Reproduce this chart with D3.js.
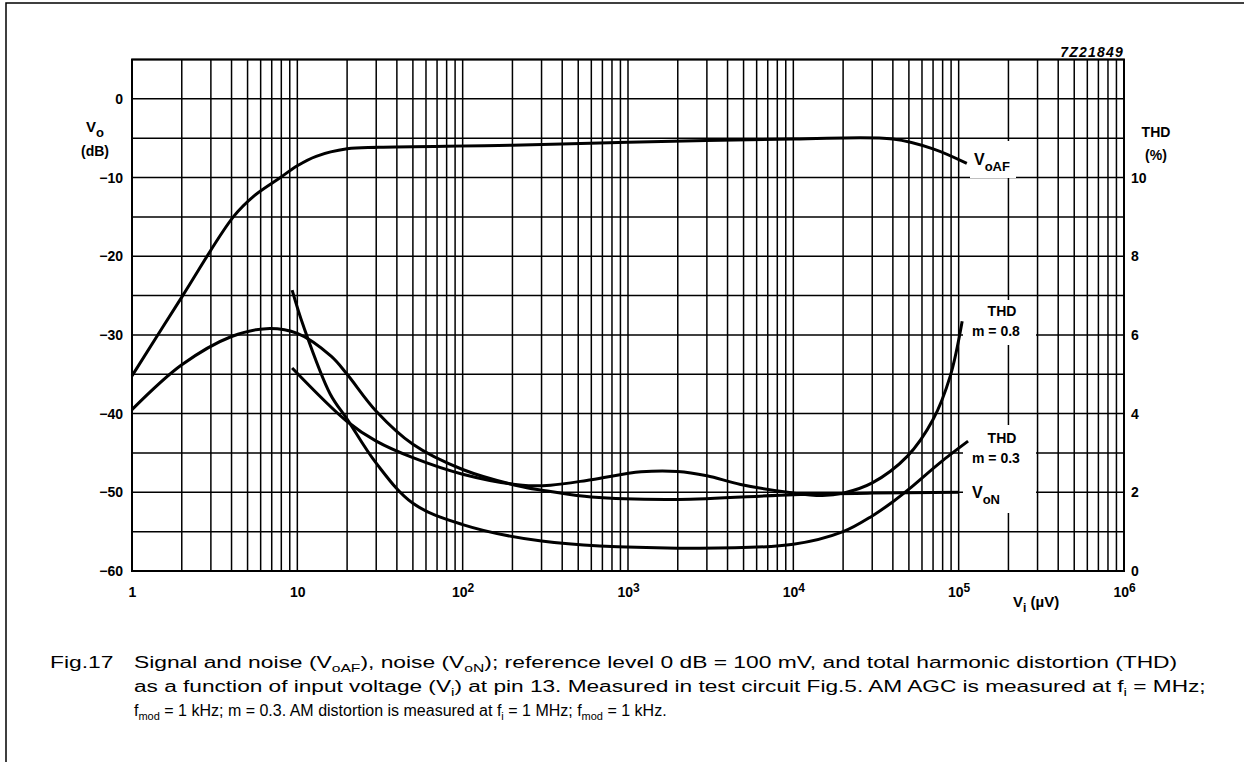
<!DOCTYPE html>
<html>
<head>
<meta charset="utf-8">
<script src="https://cdn.jsdelivr.net/npm/d3@7"></script>
<style>
html, body { margin: 0; padding: 0; background: #fff; }
svg { display: block; font-family: Arial, "Liberation Sans", Helvetica, sans-serif; }
</style>
</head>
<body>
<div id="chart"></div>
<script>
// 軸刻度 / axis ticks
const xTicks = [1, 10, 1e2, 1e3, 1e4, 1e5, 1e6];
const xTickBase = ["1", "10", "10", "10", "10", "10", "10"];
const xTickExp = ["", "", "2", "3", "4", "5", "6"];
const dbTicks = [0, -10, -20, -30, -40, -50, -60];
const thdTicks = [0, 2, 4, 6, 8, 10];

// V_oAF (dB) 讀自圖 /
const voafVi = [1, 2, 4.1, 5.5, 7.9, 10, 13, 20, 31, 200, 1000, 1e4, 4e4, 7e4, 1.12e5];
const voafDb = [-35.2, -25.2, -15.0, -12.3, -10, -8.5, -7.3, -6.35, -6.15, -5.9, -5.5, -5.1, -5.1, -6.35, -8.2];

// V_oN (dB)
const vonVi = [1, 2, 4, 6.5, 10, 16, 20, 30, 50, 100, 230, 340, 600, 2000, 1e4, 3e4, 1e5];
const vonDb = [-39.5, -33.8, -30.2, -29.2, -29.8, -32.7, -35, -39.7, -43.9, -47.1, -49.3, -49.9, -50.6, -50.9, -50.3, -50.1, -50.0];

// THD m = 0.8 (%)
const thd08Vi = [9.3, 20, 30, 50, 100, 230, 340, 600, 1200, 2000, 3000, 4800, 1e4, 1.5e4, 2e4, 3e4, 4.9e4, 7e4, 8.9e4, 1.05e5];
const thd08Pct = [5.16, 3.8, 3.3, 2.88, 2.46, 2.18, 2.18, 2.32, 2.52, 2.53, 2.42, 2.2, 1.98, 1.92, 1.98, 2.24, 2.92, 3.85, 4.96, 6.35];

// THD m = 0.3 (%)
const thd03Vi = [9.3, 10.9, 15.8, 20, 30, 50, 100, 300, 2000, 1e4, 2e4, 3e4, 4e4, 5e4, 7.7e4, 1.14e5];
const thd03Pct = [7.14, 6.22, 4.5, 3.86, 2.74, 1.72, 1.18, 0.76, 0.58, 0.68, 1.0, 1.4, 1.76, 2.08, 2.75, 3.3];

const width = 1244, height = 762;
const plotL = 132, plotR = 1124, plotT = 59.5, plotB = 571;

const svg = d3.select("#chart").append("svg")
    .attr("width", width).attr("height", height)
    .attr("viewBox", `0 0 ${width} ${height}`);

const x = d3.scaleLog().domain([1, 1e6]).range([plotL, plotR]);
const y = d3.scaleLinear().domain([-60, 5]).range([plotB, plotT]);
const yThd = d3.scaleLinear().domain([0, 13]).range([plotB, plotT]);

// 外框 / page frame
svg.append("path").attr("d", `M6,${height} V3 H${width}`)
    .attr("fill", "none").attr("stroke", "#000").attr("stroke-width", 1.5);

// 格線 / grid
const grid = svg.append("g").attr("stroke", "#000").attr("stroke-width", 1.5);
grid.selectAll("line.v").data(x.ticks()).join("line").attr("class", "v")
    .attr("x1", d => x(d)).attr("x2", d => x(d)).attr("y1", plotT).attr("y2", plotB);
grid.selectAll("line.h").data(y.ticks(13)).join("line").attr("class", "h")
    .attr("x1", plotL).attr("x2", plotR).attr("y1", d => y(d)).attr("y2", d => y(d));

// 標籤白底 / white boxes behind curve labels
const boxes = [[970, 141, 46, 37], [963, 300, 73, 45], [963, 425, 73, 88]];
svg.append("g").selectAll("rect").data(boxes).join("rect")
    .attr("x", d => d[0]).attr("y", d => d[1]).attr("width", d => d[2]).attr("height", d => d[3])
    .attr("fill", "#fff");

svg.append("rect").attr("x", plotL).attr("y", plotT)
    .attr("width", plotR - plotL).attr("height", plotB - plotT)
    .attr("fill", "none").attr("stroke", "#000").attr("stroke-width", 2);

// 曲線 / curves
const smooth = d3.curveCatmullRom.alpha(0.5);
const lineDb = d3.line().x(d => x(d[0])).y(d => y(d[1])).curve(smooth);
const lineThd = d3.line().x(d => x(d[0])).y(d => yThd(d[1])).curve(smooth);
const curves = svg.append("g").attr("fill", "none").attr("stroke", "#000").attr("stroke-width", 3);
curves.append("path").attr("d", lineDb(d3.zip(voafVi, voafDb)));
curves.append("path").attr("d", lineDb(d3.zip(vonVi, vonDb)));
curves.append("path").attr("d", lineThd(d3.zip(thd08Vi, thd08Pct)));
curves.append("path").attr("d", lineThd(d3.zip(thd03Vi, thd03Pct)));

// 軸 / axes
function styleAxis(g) {
    g.select(".domain").remove();
    g.attr("font-family", null).attr("font-size", 14).attr("font-weight", "bold");
    g.selectAll("text").attr("fill", "#000");
}
svg.append("g").attr("transform", `translate(${plotL},0)`)
    .call(d3.axisLeft(y).tickValues(dbTicks).tickSize(0).tickPadding(9))
    .call(styleAxis);
svg.append("g").attr("transform", `translate(${plotR},0)`)
    .call(d3.axisRight(yThd).tickValues(thdTicks).tickSize(0).tickPadding(7))
    .call(styleAxis);
const xAxis = svg.append("g").attr("transform", `translate(0,${plotB})`)
    .call(d3.axisBottom(x).tickValues(xTicks).tickFormat("").tickSize(0).tickPadding(16))
    .call(styleAxis);
xAxis.selectAll(".tick text").each(function (d, i) {
    const t = d3.select(this);
    t.append("tspan").text(xTickBase[i]);
    if (xTickExp[i]) t.append("tspan").attr("dy", -5).attr("font-size", 12).text(xTickExp[i]);
});

// 多段文字（下標）/ text with subscripts
function rich(sel, parts, subSize, shift) {
    let down = false;
    parts.forEach(([txt, sub]) => {
        const ts = sel.append("tspan").text(txt);
        if (sub && !down) { ts.attr("dy", shift).attr("font-size", subSize); down = true; }
        else if (sub) { ts.attr("font-size", subSize); }
        else if (down) { ts.attr("dy", -shift); down = false; }
    });
    return sel;
}
function label(xp, yp, parts, opts = {}) {
    const t = svg.append("text").attr("x", xp).attr("y", yp)
        .attr("font-size", opts.size || 15).attr("font-weight", opts.weight || "bold")
        .attr("text-anchor", opts.anchor || "start");
    rich(t, parts, opts.subSize || 13, opts.shift || 6);
    return t;
}

label(95, 132, [["V"], ["o", 1]], { anchor: "middle", shift: 5 });
label(95, 156, [["(dB)"]], { anchor: "middle", size: 14 });
label(1156, 137, [["THD"]], { anchor: "middle", size: 14 });
label(1156, 160, [["(%)"]], { anchor: "middle", size: 14 });
label(1124, 57, [["7Z21849"]], { anchor: "end", size: 14 })
    .attr("font-style", "italic").attr("letter-spacing", 1.2);

label(974, 165, [["V"], ["oAF", 1]], { size: 16 });
label(1002, 316, [["THD"]], { anchor: "middle", size: 14 });
label(972, 336, [["m = 0.8"]], { size: 14 });
label(1002, 443, [["THD"]], { anchor: "middle", size: 14 });
label(972, 463, [["m = 0.3"]], { size: 14 });
label(972, 498, [["V"], ["oN", 1]], { size: 16 });
label(1013, 607, [["V"], ["i", 1], [" (µV)"]], { size: 15, shift: 5, subSize: 12 });

// 圖說 / caption
const capLines = [
    [["Signal and noise (V"], ["oAF", 1], ["), noise (V"], ["oN", 1], ["); reference level 0 dB = 100 mV, and total harmonic distortion (THD)"]],
    [["as a function of input voltage (V"], ["i", 1], [") at pin 13. Measured in test circuit Fig.5. AM AGC is measured at f"], ["i", 1], [" = MHz;"]],
    [["f"], ["mod", 1], [" = 1 kHz; m = 0.3. AM distortion is measured at f"], ["i", 1], [" = 1 MHz; f"], ["mod", 1], [" = 1 kHz."]]
];
// 前兩行橫向拉伸至原圖行寬，末行自然寬度 / stretch the first two lines to the original width, last line natural
const capEnds = [1178, 1206, null];
function stretchTo(t, s) {
    const x0 = +t.attr("x");
    t.attr("transform", `matrix(${s},0,0,1,${x0 * (1 - s)},0)`);
}
const figText = label(50, 668, [["Fig.17"]], { size: 16, weight: "normal" });
capLines.forEach((parts, i) => {
    const t = label(134, 668 + i * 24, parts, { size: 16, weight: "normal", subSize: 11, shift: 4 });
    if (capEnds[i]) {
        const s = (capEnds[i] - 134) / t.node().getComputedTextLength();
        stretchTo(t, s);
        if (i === 0) stretchTo(figText, s);
    }
});
</script>
</body>
</html>
